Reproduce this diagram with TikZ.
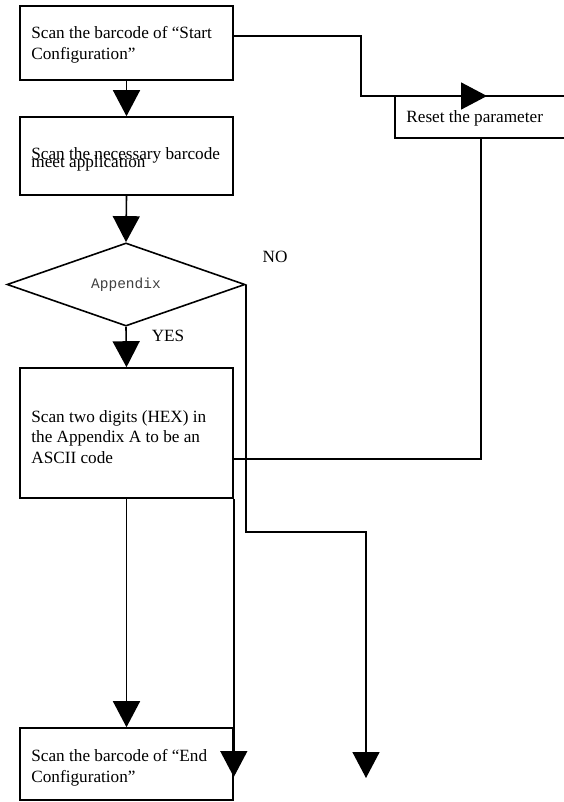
\documentclass[tikz,border=0pt]{standalone}
\usepackage{fontspec}
\setmainfont{Liberation Serif}
\newfontfamily\appfont{Liberation Mono}
\usetikzlibrary{arrows.meta,shapes.geometric}
\begin{document}
\begin{tikzpicture}[x=1pt,y=-1pt,
  every node/.style={font=\fontsize{17.2}{20.5}\selectfont},
  box/.style={draw=black,line width=1.6pt,rectangle,minimum width=213pt,inner sep=0pt},
  txt/.style={anchor=west,inner sep=0pt,align=left},
  conn/.style={line width=1.6pt,draw=black},
  arr/.style={conn,-{Triangle[length=26pt,width=27pt]}},
  lbl/.style={inner sep=0pt}]
\useasboundingbox (0,0) rectangle (564,802);
\clip (0,0) rectangle (564,802);
\fill[white] (0,0) rectangle (564,802);

% boxes
\node[box,minimum height=74pt] (b1) at (126.5,43) {};
\node[box,minimum height=78pt] (b2) at (126.5,156) {};
\node[draw=black,line width=1.6pt,shape=diamond,inner sep=0pt,minimum width=238pt,minimum height=61pt,
      font=\appfont\fontsize{14.5}{16}\selectfont,text=black!75] (dia) at (126,284.5) {Appendix};
\node[box,minimum height=130pt] (b3) at (126.5,433) {};
\node[box,minimum height=72pt] (b4) at (126.5,764) {};
\node[box,minimum width=185pt,minimum height=42pt] (rs) at (487.5,117) {};

% texts
\node[txt] (t1) at ([xshift=12pt,yshift=-2pt]b1.west) {Scan the barcode of “Start\\Configuration”};
\node[txt] (t2) at ([xshift=12pt,yshift=-3pt]b2.west) {Scan the necessary barcode\\[-12.5pt]meet application};
\node[txt] (t3) at ([xshift=12pt,yshift=-4pt]b3.west) {Scan two digits (HEX) in\\the Appendix A to be an\\ASCII code};
\node[txt] (t4) at ([xshift=12pt,yshift=-4pt]b4.west) {Scan the barcode of “End\\Configuration”};
\node[txt] (t5) at ([xshift=12pt,yshift=-1pt]rs.west) {Reset the parameter};
\node[lbl,anchor=base] (no) at (275,262) {NO};
\node[lbl,anchor=base] (yes) at (168,341) {YES};

% main flow
\draw[arr] (b1.south) -- (b2.north);
\draw[arr] (b2.south) -- (dia.north);
\draw[arr] (dia.south) -- (b3.north);
\draw[arr] (b3.south) -- (b4.north);

% to reset
\coordinate (k1) at (361,96);
\coordinate (k2) at (487,96);
\draw[arr] ([yshift=7pt]b1.east) -| (k1) -- (k2);

% from reset back
\coordinate (r1) at (481,459);
\draw[conn] ([xshift=-6.5pt]rs.south) -- (r1) -- (b3.east |- r1);

% box3 right edge down
\coordinate (a1) at (0,777);
\draw[arr] (b3.south east) -- (b4.east |- a1);

% NO branch
\coordinate (n2) at (366,532);
\coordinate (n3) at (366,778);
\draw[arr] (dia.east) |- (n2) -- (n3);
\end{tikzpicture}
\end{document}
